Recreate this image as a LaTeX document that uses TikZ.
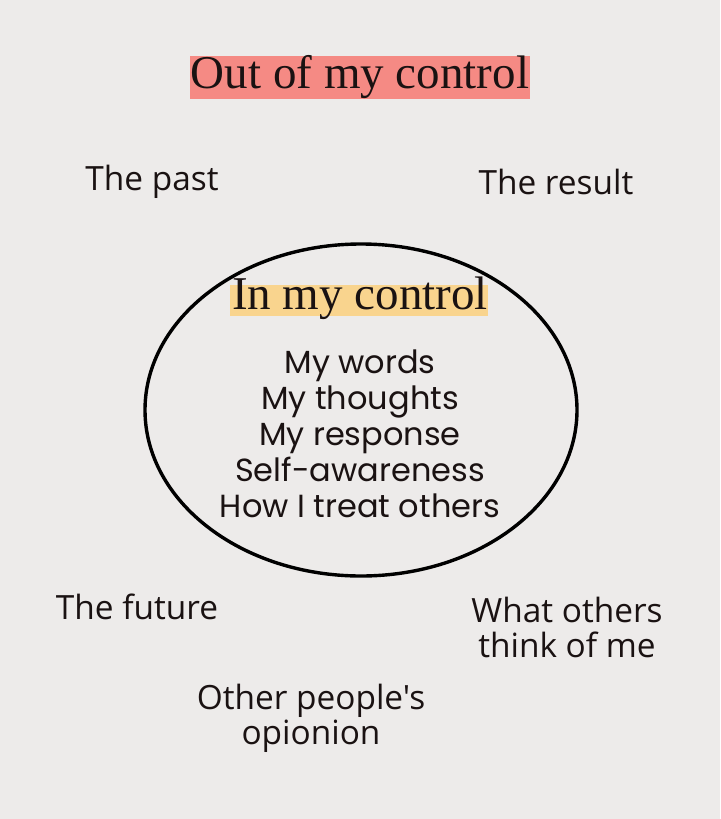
\documentclass[tikz,border=0pt]{standalone}
\usepackage{fontspec}
\setmainfont{Liberation Serif}
\newfontfamily\innerfont{Poppins}
\newfontfamily\outerfont{Open Sans}
\usepackage{tikz}
\definecolor{paperbg}{HTML}{EDEBEA}
\definecolor{outhl}{HTML}{F58A84}
\definecolor{inhl}{HTML}{F9D48E}
\definecolor{inkdark}{HTML}{1A1212}

\begin{document}
\begin{tikzpicture}[x=0.5pt,y=-0.5pt, every node/.style={align=center,text=inkdark},
  title/.style={font=\fontsize{23.5}{26}\selectfont, inner sep=0pt},
  inner/.style={font=\innerfont\fontsize{16}{18}\selectfont},
  outer/.style={font=\outerfont\fontsize{16.7}{17.5}\selectfont}]
\fill[paperbg] (0,0) rectangle (720,819);
\useasboundingbox (0,0) rectangle (720,819);
\fill[outhl] (190,56) rectangle (530,99);
\node[title] (outctrl) at (360,77) {Out of my control};
\draw[line width=1.7pt] (361,410) ellipse [x radius=216, y radius=166];
\fill[inhl] (230,285) rectangle (488,316);
\node[title] (inctrl) at (360,298) {In my control};
\node[inner] (inlist) at (360,434) {My words\\My thoughts\\My response\\Self-awareness\\How I treat others};
\node[outer] (past) at (152,182) {The past};
\node[outer] (result) at (556,182) {The result};
\node[outer] (future) at (137,607) {The future};
\node[outer] (others) at (567,627) {What others\\think of me};
\node[outer] (opinion) at (311,718) {Other people's\\opionion};
\end{tikzpicture}
\end{document}
